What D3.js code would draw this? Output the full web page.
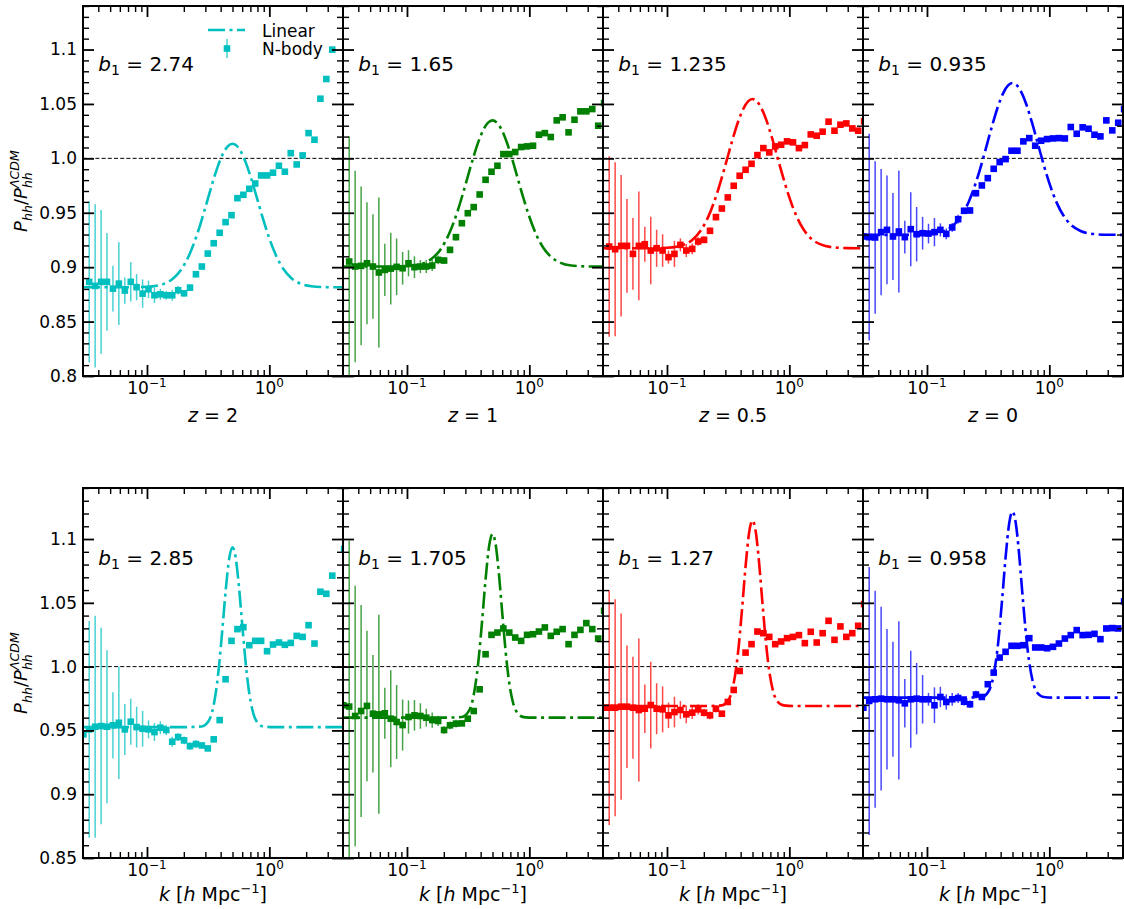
<!DOCTYPE html>
<html>
<head>
<meta charset="utf-8">
<script src="https://cdn.jsdelivr.net/npm/d3@7"></script>
<style>
  body { margin: 0; background: #fff; }
  svg { display: block; font-family: "DejaVu Sans", sans-serif; }
</style>
</head>
<body>
<svg id="chart" width="1124" height="909"></svg>
<script>
// k bins of the N-body measurement (h/Mpc); first bin sits on the left edge
const kBins = [0.0302, 0.0337, 0.0377, 0.0422, 0.0471, 0.0527, 0.0589, 0.0659, 0.0737, 0.0823,
  0.0921, 0.1029, 0.1151, 0.1287, 0.1438, 0.1608, 0.1798, 0.2010, 0.2247, 0.2513,
  0.2809, 0.3141, 0.3511, 0.3926, 0.4389, 0.4907, 0.5486, 0.6133, 0.6857, 0.7666,
  0.8571, 0.9582, 1.0713, 1.1977, 1.3390, 1.4970, 1.6737, 1.8712, 2.0920, 2.3388,
  2.6148, 2.9233, 3.2683, 3.6540, 4.085];

const redshifts = ["2", "1", "0.5", "0"];
const biasTop = ["2.74", "1.65", "1.235", "0.935"];
const biasBottom = ["2.85", "1.705", "1.27", "0.958"];
const colors = ["#00bfbf", "#008000", "#ff0000", "#0000ff"];

// top row: N-body ratios
const topZ2 = [null, 0.8865, 0.8828, 0.8865, 0.8865, 0.8803, 0.8849, 0.8785, 0.8865, 0.8816,
  0.8757, 0.8797, 0.8742, 0.8751, 0.8742, 0.8742, 0.8788, 0.8760, 0.8812, 0.8935,
  0.9006, 0.9125, 0.9220, 0.9316, 0.9414, 0.9478, 0.9634, 0.9665, 0.9720, 0.9769,
  0.9843, 0.9843, 0.9868, 0.9932, 0.9877, 1.0048, 0.9944, 1.0027, 1.0232, 1.0171,
  1.0548, 1.0729, 1.0999, null, null];
const topZ1 = [null, 0.9052, 0.9006, 0.9012, 0.9036, 0.9006, 0.8951, 0.8975, 0.8987, 0.9003,
  0.8990, 0.9036, 0.9000, 0.9006, 0.9006, 0.9015, 0.9067, 0.9061, 0.9159, 0.9276,
  0.9404, 0.9496, 0.9552, 0.9668, 0.9803, 0.9877, 0.9932, 1.0039, 1.0039, 1.0058,
  1.0104, 1.0110, 1.0116, 1.0217, 1.0232, 1.0196, 1.0349, 1.0377, 1.0239, 1.0355,
  1.0432, 1.0432, 1.0453, 1.0300, 1.0508];
const topZ05 = [null, 0.9190, 0.9165, 0.9196, 0.9196, 0.9122, 0.9196, 0.9211, 0.9153, 0.9174,
  0.9153, 0.9092, 0.9122, 0.9205, 0.9153, 0.9168, 0.9236, 0.9251, 0.9334, 0.9460,
  0.9539, 0.9641, 0.9748, 0.9840, 0.9895, 0.9950, 1.0030, 1.0094, 1.0055, 1.0110,
  1.0125, 1.0156, 1.0147, 1.0094, 1.0122, 1.0220, 1.0208, 1.0245, 1.0337, 1.0254,
  1.0309, 1.0321, 1.0275, 1.0254, 1.0340];
const topZ0 = [0.9282, 0.9276, 0.9273, 0.9322, 0.9343, 0.9282, 0.9328, 0.9276, 0.9349, 0.9303,
  0.9312, 0.9309, 0.9322, 0.9343, 0.9306, 0.9365, 0.9441, 0.9518, 0.9521, 0.9680,
  0.9751, 0.9818, 0.9904, 0.9966, 0.9993, 1.0070, 1.0070, 1.0156, 1.0186, 1.0116,
  1.0162, 1.0177, 1.0183, 1.0186, 1.0183, 1.0288, 1.0226, 1.0285, 1.0272, 1.0217,
  1.0202, 1.0349, 1.0257, 1.0327, 1.0453];

const errTopZ2 = [0, 0.074, 0.075, 0.066, 0.045, 0.021, 0.038, 0.012, 0.018, 0.012,
  0.013, 0.008, 0.007, 0.005, 0.004, 0.005, 0.004, 0.003, 0.003, 0.003];
const errTopZ1 = [0, 0.115, 0.088, 0.073, 0.056, 0.048, 0.069, 0.024, 0.033, 0.026,
  0.015, 0.012, 0.010, 0.006, 0.006, 0.005, 0.004, 0.003, 0.003, 0.003];
const errTopZ05 = [0, 0.083, 0.080, 0.065, 0.043, 0.033, 0.050, 0.016, 0.031, 0.017,
  0.015, 0.006, 0.012, 0.006, 0.006, 0.005, 0.004, 0.003, 0.003, 0.003];
const errTopZ0 = [0, 0.095, 0.070, 0.058, 0.050, 0.040, 0.056, 0.015, 0.034, 0.025,
  0.015, 0.009, 0.013, 0.006, 0.005, 0.004, 0.004, 0.003, 0.003, 0.003];

// bottom row: N-body ratios
const botZ2 = [0.9469, 0.9508, 0.9529, 0.9534, 0.9529, 0.9540, 0.9560, 0.9508, 0.9568, 0.9526,
  0.9513, 0.9508, 0.9487, 0.9521, 0.9503, 0.9411, 0.9448, 0.9422, 0.9377, 0.9393,
  0.9382, 0.9359, 0.9430, 0.9581, 0.9901, 1.0202, 1.0294, 1.0309, 1.0168, 1.0202,
  1.0202, 1.0121, 1.0173, 1.0189, 1.0171, 1.0186, 1.0241, 1.0233, 1.0325, 1.0181,
  1.0587, 1.0571, 1.0713, null, 1.0922];
const botZ1 = [0.9697, 0.9687, 0.9613, 0.9652, 0.9692, 0.9631, 0.9626, 0.9634, 0.9592, 0.9566,
  0.9542, 0.9605, 0.9618, 0.9613, 0.9600, 0.9581, 0.9574, 0.9503, 0.9540, 0.9553,
  0.9555, 0.9592, 0.9652, 0.9822, 1.0097, 1.0249, 1.0267, 1.0299, 1.0267, 1.0228,
  1.0202, 1.0249, 1.0254, 1.0275, 1.0307, 1.0241, 1.0273, 1.0294, 1.0176, 1.0249,
  1.0288, 1.0341, 1.0294, 1.0220, 1.0438];
const botZ05 = [0.9678, 0.9678, 0.9678, 0.9686, 0.9686, 0.9678, 0.9660, 0.9670, 0.9699, 0.9670,
  0.9665, 0.9618, 0.9644, 0.9660, 0.9626, 0.9639, 0.9665, 0.9639, 0.9618, 0.9670,
  0.9631, 0.9723, 0.9817, 0.9966, 1.0110, 1.0176, 1.0275, 1.0262, 1.0233, 1.0176,
  1.0197, 1.0223, 1.0233, 1.0247, 1.0184, 1.0273, 1.0189, 1.0262, 1.0359, 1.0210,
  1.0315, 1.0233, 1.0262, 1.0320, 1.0490];
const botZ0 = [0.9678, 0.9731, 0.9744, 0.9749, 0.9744, 0.9744, 0.9736, 0.9712, 0.9744, 0.9749,
  0.9744, 0.9744, 0.9697, 0.9762, 0.9723, 0.9744, 0.9754, 0.9725, 0.9705, 0.9781,
  0.9762, 0.9862, 0.9953, 1.0071, 1.0116, 1.0163, 1.0163, 1.0168, 1.0223, 1.0150,
  1.0150, 1.0144, 1.0155, 1.0181, 1.0220, 1.0247, 1.0286, 1.0247, 1.0249, 1.0257,
  1.0215, 1.0299, 1.0302, 1.0299, 1.0511];

const errBotZ2 = [0, 0.085, 0.087, 0.077, 0.060, 0.026, 0.044, 0.020, 0.018, 0.016,
  0.014, 0.007, 0.007, 0.005, 0.004, 0.004, 0.003, 0.003, 0.003, 0.003];
const errBotZ1 = [0, 0.130, 0.102, 0.083, 0.059, 0.046, 0.078, 0.020, 0.038, 0.029,
  0.020, 0.013, 0.012, 0.010, 0.007, 0.006, 0.004, 0.003, 0.003, 0.003];
const errBotZ05 = [0, 0.092, 0.085, 0.073, 0.048, 0.040, 0.056, 0.019, 0.034, 0.020,
  0.018, 0.010, 0.012, 0.007, 0.007, 0.005, 0.004, 0.003, 0.003, 0.003];
const errBotZ0 = [0, 0.105, 0.085, 0.072, 0.055, 0.045, 0.062, 0.019, 0.038, 0.028,
  0.019, 0.005, 0.014, 0.008, 0.006, 0.005, 0.004, 0.003, 0.003, 0.003];

// linear theory curves
const kLinTop = [0.03, 0.06, 0.1, 0.13, 0.16, 0.19, 0.22, 0.26, 0.3, 0.34, 0.38, 0.42, 0.46, 0.5,
  0.54, 0.59, 0.65, 0.72, 0.8, 0.9, 1.0, 1.15, 1.3, 1.5, 1.8, 2.2, 3.0, 4.0];
const linTopZ2 = [0.8815, 0.8815, 0.8819, 0.8838, 0.8887, 0.8976, 0.9105, 0.9320, 0.9549, 0.9760,
  0.9929, 1.0047, 1.0114, 1.0134, 1.0117, 1.0055, 0.9945, 0.9794, 0.9619, 0.9423,
  0.9264, 0.9093, 0.8985, 0.8903, 0.8848, 0.8825, 0.8816, 0.8815];
const linTopZ1 = [0.9006, 0.9006, 0.9010, 0.9029, 0.9079, 0.9170, 0.9302, 0.9520, 0.9754, 0.9968,
  1.0140, 1.0260, 1.0328, 1.0349, 1.0331, 1.0269, 1.0157, 1.0003, 0.9824, 0.9625,
  0.9463, 0.9289, 0.9179, 0.9096, 0.9040, 0.9016, 0.9007, 0.9006];
const linTopZ05 = [0.9174, 0.9174, 0.9178, 0.9197, 0.9248, 0.9342, 0.9476, 0.9699, 0.9937, 1.0156,
  1.0332, 1.0454, 1.0524, 1.0545, 1.0527, 1.0463, 1.0349, 1.0192, 1.0009, 0.9806,
  0.9641, 0.9463, 0.9351, 0.9265, 0.9209, 0.9184, 0.9175, 0.9174];
const linTopZ0 = [0.9297, 0.9297, 0.9301, 0.9321, 0.9373, 0.9468, 0.9604, 0.9831, 1.0074, 1.0296,
  1.0475, 1.0600, 1.0670, 1.0692, 1.0674, 1.0609, 1.0493, 1.0332, 1.0147, 0.9940,
  0.9772, 0.9591, 0.9477, 0.9390, 0.9332, 0.9307, 0.9298, 0.9297];

const kLinBottom = [0.03, 0.1, 0.2, 0.28, 0.32, 0.35, 0.38, 0.41, 0.44, 0.47, 0.5,
  0.53, 0.56, 0.6, 0.64, 0.68, 0.73, 0.8, 0.9, 1.1, 2.0, 4.0];
const linBotZ2 = [0.9526, 0.9526, 0.9526, 0.9531, 0.9576, 0.9693, 0.9924, 1.0254, 1.0598, 1.0847, 1.0935,
  1.0857, 1.0662, 1.0333, 1.0033, 0.9815, 0.9654, 0.9561, 0.9530, 0.9526, 0.9526, 0.9526];
const linBotZ1 = [0.9600, 0.9600, 0.9600, 0.9605, 0.9651, 0.9771, 1.0007, 1.0344, 1.0695, 1.0950, 1.1040,
  1.0960, 1.0761, 1.0425, 1.0119, 0.9895, 0.9731, 0.9636, 0.9604, 0.9600, 0.9600, 0.9600];
const linBotZ05 = [0.9691, 0.9691, 0.9691, 0.9696, 0.9742, 0.9863, 1.0102, 1.0442, 1.0797, 1.1054, 1.1145,
  1.1065, 1.0864, 1.0524, 1.0215, 0.9989, 0.9823, 0.9727, 0.9696, 0.9691, 0.9691, 0.9691];
const linBotZ0 = [0.9757, 0.9757, 0.9757, 0.9762, 0.9809, 0.9930, 1.0169, 1.0510, 1.0866, 1.1124, 1.1215,
  1.1134, 1.0933, 1.0592, 1.0282, 1.0056, 0.9889, 0.9793, 0.9762, 0.9757, 0.9757, 0.9757];

const kRange = [0.03, 4];
const xMajor = [0.1, 1];
const xMinor = [0.04, 0.05, 0.06, 0.07, 0.08, 0.09, 0.2, 0.3, 0.4, 0.5, 0.6, 0.7, 0.8, 0.9, 2, 3];
const yTicksTop = [0.8, 0.85, 0.9, 0.95, 1.0, 1.05, 1.1];
const yTicksBottom = [0.85, 0.9, 0.95, 1.0, 1.05, 1.1];

// layout
const W = 260, H = 370;
const panelLeft = [83, 343, 603, 863];
const font = "DejaVu Sans";

const rows = [
  {
    top: 6, yDomain: [0.8, 1.14], yMajor: yTicksTop, kLin: kLinTop, bias: biasTop,
    vals: [topZ2, topZ1, topZ05, topZ0], errs: [errTopZ2, errTopZ1, errTopZ05, errTopZ0],
    lin: [linTopZ2, linTopZ1, linTopZ05, linTopZ0]
  },
  {
    top: 488, yDomain: [0.85, 1.14], yMajor: yTicksBottom, kLin: kLinBottom, bias: biasBottom,
    vals: [botZ2, botZ1, botZ05, botZ0], errs: [errBotZ2, errBotZ1, errBotZ05, errBotZ0],
    lin: [linBotZ2, linBotZ1, linBotZ05, linBotZ0]
  }
];

const svg = d3.select("#chart");
const x = d3.scaleLog().domain(kRange).range([0, W]);
const fmtY = d => (Math.round(d * 100) % 10 === 0 ? d.toFixed(1) : d.toFixed(2));
const dashDot = "17,4.5,3,4.5";

function addAxis(g, axis, transform, width) {
  const a = g.append("g").attr("transform", transform).call(axis);
  a.select(".domain").remove();
  a.selectAll(".tick line").attr("stroke", "#000").attr("stroke-width", width);
  a.attr("font-family", font).attr("font-size", 17);
  a.selectAll("text").attr("fill", "#000");
  return a;
}

function yLabel(parent, cx, cy) {
  const t = parent.append("text")
    .attr("transform", `translate(${cx},${cy}) rotate(-90)`)
    .attr("text-anchor", "middle").attr("font-size", 18).attr("font-family", font);
  t.append("tspan").attr("font-style", "italic").text("P");
  t.append("tspan").attr("font-style", "italic").attr("font-size", 12.6).attr("dy", 5).text("hh");
  t.append("tspan").attr("dy", -5).text("/");
  t.append("tspan").attr("font-style", "italic").text("P");
  const sup = t.append("tspan").attr("font-style", "italic").attr("font-size", 12.6).attr("dy", -8).text("ΛCDM");
  const w = sup.node().getComputedTextLength();
  t.append("tspan").attr("font-style", "italic").attr("font-size", 12.6)
    .attr("dx", -w).attr("dy", 13).text("hh");
}

rows.forEach((row, r) => {
  const y = d3.scaleLinear().domain(row.yDomain).range([H, 0]);
  const yMinor = d3.range(Math.round(row.yDomain[0] * 100) + 1, Math.round(row.yDomain[1] * 100) + 1)
    .filter(v => v % 5 !== 0).map(v => v / 100);
  const line = d3.line().x(d => x(d[0])).y(d => y(d[1])).curve(d3.curveMonotoneX);

  row.vals.forEach((vals, c) => {
    const color = colors[c];
    const g = svg.append("g").attr("transform", `translate(${panelLeft[c]},${row.top})`);
    const clipId = `clip-${r}-${c}`;
    g.append("clipPath").attr("id", clipId).append("rect").attr("width", W).attr("height", H);
    const plot = g.append("g").attr("clip-path", `url(#${clipId})`);

    plot.append("line")
      .attr("x1", 0).attr("x2", W).attr("y1", y(1)).attr("y2", y(1))
      .attr("stroke", "#000").attr("stroke-width", 1).attr("stroke-dasharray", "4,2.2");

    plot.append("path")
      .datum(row.kLin.map((k, i) => [k, row.lin[c][i]]))
      .attr("d", line).attr("fill", "none").attr("stroke", color)
      .attr("stroke-width", 2.6).attr("stroke-dasharray", dashDot);

    const errs = row.errs[c];
    const pts = kBins.map((k, i) => ({k, v: vals[i], e: errs[i] || 0})).filter(d => d.v != null);

    plot.selectAll("line.err").data(pts.filter(d => d.e > 0)).join("line")
      .attr("class", "err")
      .attr("x1", d => x(d.k)).attr("x2", d => x(d.k))
      .attr("y1", d => y(d.v - d.e)).attr("y2", d => y(d.v + d.e))
      .attr("stroke", color).attr("stroke-width", 1.5).attr("stroke-opacity", 0.72);

    plot.selectAll("rect.pt").data(pts).join("rect")
      .attr("class", "pt")
      .attr("x", d => x(d.k) - 3.3).attr("y", d => y(d.v) - 3.3)
      .attr("width", 6.6).attr("height", 6.6).attr("fill", color);

    // ticks on all four sides, pointing in
    addAxis(g, d3.axisBottom(x).tickValues(xMajor).tickSize(-11).tickFormat(""), `translate(0,${H})`, 1.8);
    addAxis(g, d3.axisBottom(x).tickValues(xMinor).tickSize(-6).tickFormat(""), `translate(0,${H})`, 1.4);
    addAxis(g, d3.axisTop(x).tickValues(xMajor).tickSize(-11).tickFormat(""), "translate(0,0)", 1.8);
    addAxis(g, d3.axisTop(x).tickValues(xMinor).tickSize(-6).tickFormat(""), "translate(0,0)", 1.4);
    addAxis(g, d3.axisLeft(y).tickValues(row.yMajor).tickSize(-11).tickPadding(6)
      .tickFormat(c === 0 ? fmtY : ""), "translate(0,0)", 1.8);
    addAxis(g, d3.axisLeft(y).tickValues(yMinor).tickSize(-6).tickFormat(""), "translate(0,0)", 1.4);
    addAxis(g, d3.axisRight(y).tickValues(row.yMajor).tickSize(-11).tickFormat(""), `translate(${W},0)`, 1.8);
    addAxis(g, d3.axisRight(y).tickValues(yMinor).tickSize(-6).tickFormat(""), `translate(${W},0)`, 1.4);

    // x tick labels 10^n
    xMajor.forEach(k => {
      const t = g.append("text").attr("x", x(k)).attr("y", H + 18)
        .attr("text-anchor", "middle").attr("font-size", 17).attr("font-family", font);
      t.append("tspan").text("10");
      t.append("tspan").attr("font-size", 12).attr("dy", -7).text(k < 1 ? "\u22121" : "0");
    });

    g.append("rect").attr("width", W).attr("height", H)
      .attr("fill", "none").attr("stroke", "#000").attr("stroke-width", 2);

    // bias annotation
    const b = g.append("text").attr("x", x(0.04)).attr("y", y(1.08))
      .attr("font-size", 20).attr("font-family", font);
    b.append("tspan").attr("font-style", "italic").text("b");
    b.append("tspan").attr("font-size", 14).attr("dy", 4).text("1");
    b.append("tspan").attr("dy", -4).text(" = " + row.bias[c]);

    // x label
    const xl = g.append("text").attr("x", W / 2).attr("y", H + 46)
      .attr("text-anchor", "middle").attr("font-size", 19).attr("font-family", font);
    if (r === 0) {
      xl.append("tspan").attr("font-style", "italic").text("z");
      xl.append("tspan").text(" = " + redshifts[c]);
    } else {
      xl.attr("y", H + 43);
      xl.append("tspan").attr("font-style", "italic").text("k");
      xl.append("tspan").text(" [");
      xl.append("tspan").attr("font-style", "italic").text("h");
      xl.append("tspan").text(" Mpc");
      xl.append("tspan").attr("font-size", 13).attr("dy", -8).text("\u22121");
      xl.append("tspan").attr("dy", 8).text("]");
    }

    // legend in the first panel
    if (r === 0 && c === 0) {
      const lg = g.append("g").attr("font-size", 17).attr("font-family", font);
      lg.append("line").attr("x1", 125).attr("x2", 162).attr("y1", 24).attr("y2", 24)
        .attr("stroke", color).attr("stroke-width", 2.6).attr("stroke-dasharray", dashDot);
      lg.append("text").attr("x", 179).attr("y", 30.5).text("Linear");
      lg.append("line").attr("x1", 144).attr("x2", 144).attr("y1", 33).attr("y2", 52)
        .attr("stroke", color).attr("stroke-width", 1.5).attr("stroke-opacity", 0.72);
      lg.append("rect").attr("x", 144 - 3.3).attr("y", 42.5 - 3.3).attr("width", 6.6).attr("height", 6.6)
        .attr("fill", color);
      lg.append("text").attr("x", 179).attr("y", 48.5).text("N-body");
    }
  });

  yLabel(svg, 27, row.top + H / 2);
});
</script>
</body>
</html>
